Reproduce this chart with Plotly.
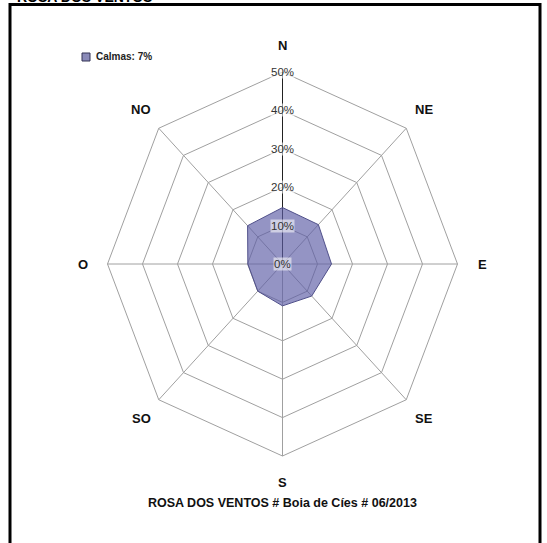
import plotly.graph_objects as go
import numpy as np

directions = ["N", "NE", "E", "SE", "S", "SO", "O", "NO"]
frequencies = [14.7, 14.5, 14.0, 11.8, 10.9, 10.0, 9.9, 14.1]
ring_values = [10, 20, 30, 40, 50]
tick_values = [0, 10, 20, 30, 40, 50]
tick_labels = ["0%", "10%", "20%", "30%", "40%", "50%"]
calmas = 7
chart_title = "ROSA DOS VENTOS # Boia de Cíes # 06/2013"
top_title = "ROSA DOS VENTOS"

angles = np.deg2rad(np.arange(len(directions)) * 45.0)

def to_xy(r, ang):
    return r * np.sin(ang), r * np.cos(ang)

fig = go.Figure()

# grid rings (octagons)
for rv in ring_values:
    xs, ys = to_xy(np.full(len(angles) + 1, rv), np.append(angles, angles[0]))
    fig.add_trace(go.Scatter(x=xs, y=ys, mode="lines", line=dict(color="#a0a0a0", width=1),
                             hoverinfo="skip", showlegend=False))
# spokes
rmax = ring_values[-1]
for i, a in enumerate(angles):
    xe, ye = to_xy(rmax, a)
    fig.add_trace(go.Scatter(x=[0, xe], y=[0, ye], mode="lines",
                             line=dict(color="#222222" if i == 0 else "#a0a0a0", width=1),
                             hoverinfo="skip", showlegend=False))

# data polygon
fr = np.array(frequencies + [frequencies[0]])
xs, ys = to_xy(fr, np.append(angles, angles[0]))
fig.add_trace(go.Scatter(x=xs, y=ys, mode="lines", fill="toself",
                         fillcolor="rgba(92,92,165,0.66)",
                         line=dict(color="#50508a", width=1), showlegend=False,
                         text=directions + [directions[0]], hoverinfo="text"))

annotations = []
# radial tick labels
for tv, tl in zip(tick_values, tick_labels):
    annotations.append(dict(x=0, y=tv, xref="x", yref="y", text=tl, showarrow=False,
                            font=dict(family="Liberation Sans, Arial", size=11.5, color="#333333"),
                            bgcolor="rgba(255,255,255,0.55)", borderpad=0))
# direction labels
for d, a in zip(directions, angles):
    lx, ly = to_xy(57, a)
    annotations.append(dict(x=lx, y=ly, xref="x", yref="y", text="<b>%s</b>" % d, showarrow=False,
                            font=dict(family="Liberation Sans, Arial", size=13, color="#111111")))
# legend
annotations.append(dict(x=94, y=57, xref="paper", yref="paper", text="<b>Calmas: %d%%</b>" % calmas,
                        showarrow=False, xanchor="left", yanchor="middle",
                        font=dict(family="Liberation Sans, Arial", size=10, color="#222222")))
# bottom title
annotations.append(dict(x=282, y=512, xref="paper", yref="paper", text="<b>%s</b>" % chart_title,
                        showarrow=False, font=dict(family="Liberation Sans, Arial", size=12.5, color="#111111")))
# clipped top title
annotations.append(dict(x=15, y=-3, xref="paper", yref="paper", text="<b>%s</b>" % top_title,
                        showarrow=False, xanchor="left", yanchor="middle",
                        font=dict(family="Liberation Sans Narrow, Liberation Sans, Arial", size=14, color="#000000")))

W, H = 547, 543
# convert pixel-based paper annotations
for an in annotations:
    if an["xref"] == "paper":
        an["x"] = an["x"] / W
        an["y"] = 1 - an["y"] / H

cx, cy = 282.5, 264.0
pxx, pxy = 3.5, 3.84
fig.update_layout(
    width=W, height=H, margin=dict(l=0, r=0, t=0, b=0),
    paper_bgcolor="white", plot_bgcolor="rgba(0,0,0,0)",
    xaxis=dict(range=[-cx / pxx, (W - cx) / pxx], visible=False, fixedrange=True),
    yaxis=dict(range=[-(H - cy) / pxy, cy / pxy], visible=False, fixedrange=True),
    annotations=annotations,
    shapes=[
        dict(type="rect", xref="paper", yref="paper", x0=10 / W, x1=540 / W, y0=1 - 560 / H, y1=1 - 4.5 / H,
             line=dict(color="black", width=3), fillcolor="rgba(0,0,0,0)", layer="below"),
        dict(type="rect", xref="paper", yref="paper", x0=82 / W, x1=90 / W, y0=1 - 61 / H, y1=1 - 53 / H,
             line=dict(color="#333355", width=1), fillcolor="#8a8ab8"),
    ],
    showlegend=False,
)
fig.write_html("out.html", config={"displayModeBar": False},
               post_script="document.body.style.margin='0px';document.body.style.overflow='hidden';")
